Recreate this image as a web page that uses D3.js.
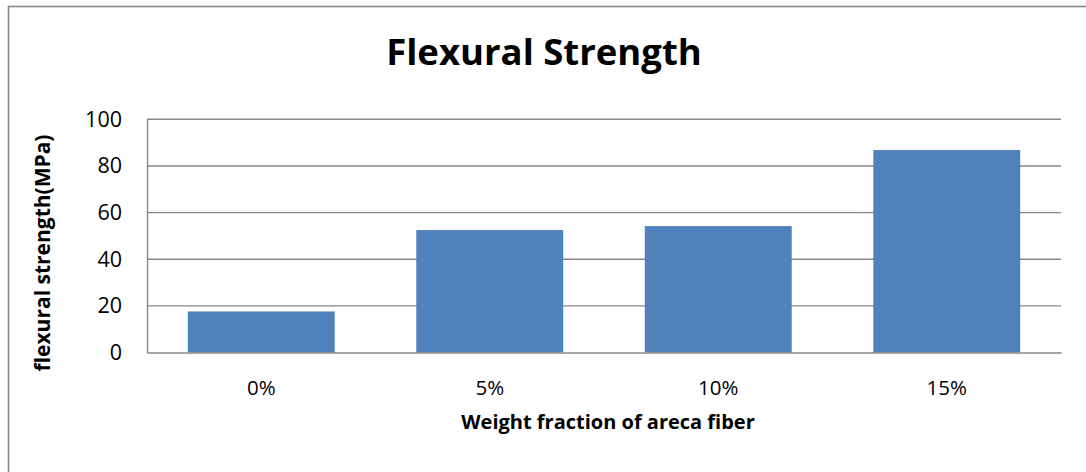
<!DOCTYPE html>
<html>
<head>
<meta charset="utf-8">
<script src="https://cdn.jsdelivr.net/npm/d3@7"></script>
<style>
  html, body { margin: 0; padding: 0; background: #fff; }
  svg { display: block; }
  text { font-family: "Open Sans", "Noto Sans", sans-serif; fill: #000; }
</style>
</head>
<body>
<svg id="chart" width="1086" height="472"></svg>
<script>
// Flexural strength for each fibre loading
const categories = ["0%", "5%", "10%", "15%"];
const strengths = [17.6, 52.5, 54.2, 86.8];
const yTicks = [0, 20, 40, 60, 80, 100];

const title = "Flexural Strength";
const xTitle = "Weight fraction of areca fiber";
const yTitle = "flexural strength(MPa)";

const svg = d3.select("#chart");
const W = 1086, H = 472;

// chart frame (only its top and left edges fall inside the window)
svg.append("rect")
  .attr("x", 8.5).attr("y", 6.5)
  .attr("width", W + 20).attr("height", H + 20)
  .attr("fill", "#fff")
  .attr("stroke", "#878787").attr("stroke-width", 1.6);

const plot = { left: 147, right: 1061, top: 119.3, bottom: 352.5 };

const x = d3.scaleBand()
  .domain(categories)
  .range([plot.left, plot.right])
  .paddingInner(0.357)
  .paddingOuter(0.357 / 2);

const y = d3.scaleLinear()
  .domain([0, 100])
  .range([plot.bottom, plot.top]);

// horizontal gridlines
svg.append("g")
  .selectAll("line")
  .data(yTicks.filter(d => d > 0))
  .join("line")
  .attr("x1", plot.left).attr("x2", plot.right)
  .attr("y1", d => y(d)).attr("y2", d => y(d))
  .attr("stroke", "#878787").attr("stroke-width", 1.4);

// bars
svg.append("g")
  .selectAll("rect")
  .data(categories.map((c, i) => ({ c, v: strengths[i] })))
  .join("rect")
  .attr("x", d => x(d.c))
  .attr("y", d => y(d.v))
  .attr("width", x.bandwidth())
  .attr("height", d => y(0) - y(d.v))
  .attr("fill", "#4F81BD");

// y axis
const yAxis = svg.append("g")
  .attr("transform", `translate(${plot.left},0)`)
  .call(d3.axisLeft(y).tickValues(yTicks).tickSize(0).tickPadding(25));
yAxis.select(".domain").attr("stroke", "#878787").attr("stroke-width", 1.4);
yAxis.selectAll("text")
  .style("font-family", "'Open Sans', sans-serif")
  .style("font-size", "21.5px")
  .attr("fill", "#000");

// x axis
const xAxis = svg.append("g")
  .attr("transform", `translate(0,${plot.bottom})`)
  .call(d3.axisBottom(x).tickSize(0).tickPadding(27));
xAxis.select(".domain").attr("stroke", "#878787").attr("stroke-width", 1.4);
xAxis.selectAll("text")
  .attr("dy", "0")
  .style("font-family", "'Open Sans', sans-serif")
  .style("font-size", "20.5px")
  .attr("fill", "#000");
xAxis.selectAll(".tick text").attr("y", 42.5);

// titles
svg.append("text")
  .attr("x", 544).attr("y", 65)
  .attr("text-anchor", "middle")
  .style("font-size", "36.5px").style("font-weight", "bold")
  .text(title);

svg.append("text")
  .attr("x", 608).attr("y", 429)
  .attr("text-anchor", "middle")
  .style("font-size", "20px").style("font-weight", "bold")
  .text(xTitle);

svg.append("text")
  .attr("transform", "translate(50,253) rotate(-90)")
  .attr("text-anchor", "middle")
  .style("font-size", "21px").style("font-weight", "bold")
  .text(yTitle);
</script>
</body>
</html>
